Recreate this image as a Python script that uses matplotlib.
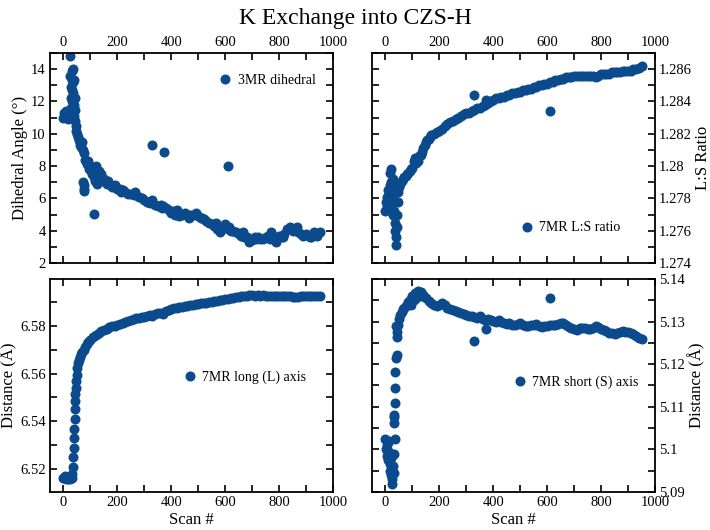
import numpy as np
import matplotlib
matplotlib.use('Agg')
import matplotlib.pyplot as plt
import matplotlib.ticker as mticker

plt.rcParams['font.family'] = ['Liberation Serif', 'DejaVu Serif']

BLUE = '#0b4a8c'

# ---- 3MR dihedral (deg) ----
dih_scan = [0, 3, 6, 9, 12, 15, 18, 21,
            24, 26, 27, 28, 29, 30, 31, 32, 33, 34, 35, 36, 37, 38, 39, 40, 42, 43, 44,
            46, 48, 50, 53, 56, 60, 63, 66, 70, 73, 76, 80, 83, 86, 90, 93, 96,
            100, 103, 106, 110, 113, 116, 120, 123, 126, 130, 135, 140, 145, 150,
            160, 170, 180, 190, 200, 210, 220, 230, 240, 250, 260, 270, 280, 290,
            300, 310, 320, 330, 340, 350, 360, 370, 380, 390, 400, 410, 420, 430,
            440, 450, 460, 470, 480, 490, 500, 510, 520, 530, 540, 550, 560, 570,
            580, 590, 600, 610, 620, 630, 640, 650, 660, 670, 680, 690, 700, 710,
            720, 730, 740, 750, 760, 770, 780, 790, 800, 810, 820, 830, 840, 850,
            860, 870, 880, 890, 900, 910, 920, 930, 940, 950,
            165, 215, 265, 315, 365, 415, 465, 515, 565, 615, 665, 715, 765, 815, 865, 915,
            74, 75, 76, 77, 115, 329, 372, 611]
dih_val = [11.0, 11.3, 11.1, 11.4, 11.2, 10.9, 11.3, 11.0,
           14.8, 13.6, 12.9, 12.2, 11.6, 13.9, 13.3, 12.7, 12.0, 11.3, 14.0, 13.2, 12.5, 11.8, 11.1, 13.3, 12.2, 11.5, 10.8,
           10.5, 10.2, 10.0, 9.8, 9.6, 9.5, 9.3, 9.2, 9.5, 9.0, 8.8, 8.4, 8.3, 8.1, 8.3, 8.0, 7.8,
           8.0, 7.7, 7.5, 7.9, 7.3, 7.1, 8.0, 7.6, 6.9, 7.7, 7.2, 7.5, 7.1, 7.2,
           6.9, 6.9, 6.7, 6.8, 6.6, 6.6, 6.5, 6.4, 6.3, 6.3, 6.2, 6.2, 6.1, 6.0,
           5.9, 5.8, 5.7, 5.9, 5.6, 5.5, 5.6, 5.5, 5.4, 5.3, 5.1, 5.2, 5.3, 4.9,
           5.0, 5.1, 5.0, 5.0, 5.0, 5.1, 4.9, 4.8, 4.7, 4.6, 4.5, 4.4, 4.3, 4.1,
           3.9, 4.2, 4.4, 4.1, 4.0, 4.0, 3.9, 3.8, 3.7, 3.6, 3.6, 3.3, 3.4, 3.6,
           3.6, 3.5, 3.5, 3.6, 3.7, 3.9, 3.5, 3.3, 3.7, 3.6, 3.8, 4.1, 4.2, 4.0,
           4.1, 3.9, 3.8, 3.7, 3.8, 3.7, 3.6, 3.9, 3.7, 3.9,
           7.1, 6.4, 6.4, 5.8, 5.4, 5.0, 4.8, 4.8, 4.5, 4.2, 3.9, 3.5, 3.5, 3.6, 4.2, 3.6,
           7.0, 6.8, 6.6, 6.45, 5.05, 9.3, 8.9, 8.0]

# ---- 7MR L:S ratio ----
ls_scan = [0, 2, 4, 6, 8, 10, 12, 14, 16, 18, 20, 22, 24, 26, 27, 28, 30, 32, 33, 34,
           36, 38, 40, 42, 44, 46, 48, 50, 55, 60, 65, 70, 75, 80, 85, 90, 95, 100,
           105, 110, 115, 120, 125, 130, 135, 140, 145, 150, 155, 160, 165, 170,
           180, 190, 200, 210, 220, 230, 240, 250, 260, 270, 280, 290, 300, 310,
           320, 330, 340, 350, 360, 370, 380, 390, 400, 410, 420, 430, 440, 450,
           460, 470, 480, 490, 500, 510, 520, 530, 540, 550, 560, 570, 580, 590,
           600, 610, 620, 630, 640, 650, 660, 670, 680, 690, 700, 710, 720, 730,
           740, 750, 760, 770, 780, 790, 800, 810, 820, 830, 840, 850, 860, 870,
           880, 890, 900, 910, 920, 930, 940, 950,
           330, 373, 611]
ls_val = [1.2772, 1.2778, 1.2781, 1.2775, 1.2785, 1.2779, 1.2776, 1.2783, 1.2788, 1.2796,
          1.2798, 1.2790, 1.2784, 1.2777, 1.2770, 1.2792, 1.2786, 1.2779, 1.2772, 1.2765,
          1.2760, 1.2756, 1.2751, 1.2762, 1.2770, 1.2778, 1.2784, 1.2787, 1.2789, 1.2791,
          1.2792, 1.2793, 1.2794, 1.2795, 1.2796, 1.2797, 1.2798, 1.2799,
          1.2803, 1.2805, 1.2802, 1.2803, 1.2806, 1.2807, 1.2809, 1.2811, 1.2813, 1.2815,
          1.2816, 1.2817, 1.2818, 1.2819,
          1.2820, 1.2821, 1.2822, 1.2823, 1.2825, 1.2826, 1.2827, 1.2828, 1.2829, 1.2830,
          1.2831, 1.2832, 1.2833, 1.2833, 1.2834, 1.2835, 1.2836, 1.2836, 1.2837, 1.2838,
          1.2839, 1.2840, 1.2841, 1.2842, 1.2842, 1.2843, 1.2843, 1.2844, 1.2844, 1.2845,
          1.2845, 1.2846, 1.2846, 1.2847, 1.2847, 1.2848, 1.2848, 1.2849, 1.2849, 1.2850,
          1.2850, 1.2851, 1.2851, 1.2852, 1.2852, 1.2853, 1.2853, 1.2854, 1.2854, 1.2855,
          1.2855, 1.2855, 1.2856, 1.2856, 1.2856, 1.2856, 1.2856, 1.2856, 1.2856, 1.2856,
          1.2855, 1.2856, 1.2857, 1.2857, 1.2857, 1.2857, 1.2858, 1.2858, 1.2858, 1.2858,
          1.2859, 1.2859, 1.2859, 1.2859, 1.2860, 1.2860, 1.2861, 1.2862,
          1.2844, 1.2841, 1.2834]

# ---- 7MR long (L) axis (Angstrom) ----
long_scan = [0, 5, 10, 15, 20, 25, 30, 33, 35, 37, 38, 39, 40, 41, 42, 43, 44, 45, 47,
             49, 52, 55, 58, 62, 66, 70, 75, 80, 86, 92, 100, 110, 120, 130, 140, 150,
             160, 170, 180, 190, 200, 210, 220, 230, 240, 250, 260, 270, 280, 290,
             300, 310, 320, 330, 340, 350, 360, 370, 380, 390, 400, 410, 420, 430,
             440, 450, 460, 470, 480, 490, 500, 510, 520, 530, 540, 550, 560, 570,
             580, 590, 600, 610, 620, 630, 640, 650, 660, 670, 680, 690, 700, 710,
             720, 730, 740, 750, 760, 770, 780, 790, 800, 810, 820, 830, 840, 850,
             860, 870, 880, 890, 900, 910, 920, 930, 940, 950]
long_val = [6.5165, 6.5170, 6.5160, 6.5158, 6.5162, 6.5160, 6.5165, 6.5180, 6.5210, 6.5250,
            6.5290, 6.5330, 6.5370, 6.5410, 6.5450, 6.5485, 6.5515, 6.5540, 6.5570,
            6.5595, 6.5625, 6.5645, 6.5655, 6.5667, 6.5680, 6.5690, 6.5700, 6.5712, 6.5723,
            6.5732, 6.5742, 6.5752, 6.5762, 6.5770, 6.5777, 6.5783, 6.5788, 6.5793, 6.5797,
            6.5800, 6.5803, 6.5808, 6.5812, 6.5816, 6.5820, 6.5823, 6.5827, 6.5830, 6.5832,
            6.5835, 6.5838, 6.5840, 6.5843, 6.5840, 6.5848, 6.5852, 6.5855, 6.5850, 6.5860,
            6.5865, 6.5868, 6.5872, 6.5875, 6.5878, 6.5880, 6.5882, 6.5884, 6.5886, 6.5887,
            6.5889, 6.5891, 6.5893, 6.5894, 6.5896, 6.5898, 6.5900, 6.5902, 6.5904, 6.5906,
            6.5908, 6.5910, 6.5912, 6.5914, 6.5916, 6.5918, 6.5920, 6.5922, 6.5924, 6.5926,
            6.5927, 6.5927, 6.5926, 6.5927, 6.5926, 6.5927, 6.5926, 6.5926, 6.5925, 6.5926,
            6.5925, 6.5925, 6.5924, 6.5925, 6.5923, 6.5922, 6.5921, 6.5920, 6.5921, 6.5922,
            6.5923, 6.5923, 6.5924, 6.5924, 6.5925, 6.5925, 6.5924]

# ---- 7MR short (S) axis (Angstrom) ----
short_scan = [0, 2, 4, 6, 8, 10, 12, 14, 16, 18, 20, 22, 24, 26, 28, 30, 32, 34,
              31, 32, 33, 34, 35, 36, 40, 41, 42, 43, 40,
              45, 50, 55, 60, 65, 70, 75, 80, 85, 90, 95, 100, 105, 110, 115, 120,
              125, 130, 135, 140, 150, 160, 170, 180, 190, 200, 210, 220, 230, 240,
              250, 260, 270, 280, 290, 300, 310, 320, 330, 340, 350, 360, 370, 380,
              390, 400, 410, 420, 430, 440, 450, 460, 470, 480, 490, 500, 510, 520,
              530, 540, 550, 560, 570, 580, 590, 600, 610, 620, 630, 640, 650, 660,
              670, 680, 690, 700, 710, 720, 730, 740, 750, 760, 770, 780, 790, 800,
              810, 820, 830, 840, 850, 860, 870, 880, 890, 900, 910, 920, 930, 940, 950,
              330, 374, 611]
short_val = [5.1025, 5.1000, 5.0985, 5.1010, 5.0990, 5.0975, 5.0995, 5.1020, 5.0965,
             5.0950, 5.0980, 5.0940, 5.0930, 5.0918, 5.0960, 5.0945, 5.0990, 5.1025,
             5.1062, 5.1075, 5.1080, 5.1110, 5.1143, 5.1182, 5.1215, 5.1222, 5.1265, 5.1276, 5.1290,
             5.1292, 5.1305, 5.1316, 5.1322, 5.1330, 5.1333, 5.1336, 5.1340, 5.1345, 5.1350,
             5.1340, 5.1360, 5.1350, 5.1366, 5.1355, 5.1372, 5.1362, 5.1370, 5.1360, 5.1362,
             5.1355, 5.1348, 5.1343, 5.1338, 5.1336, 5.1340, 5.1343, 5.1338, 5.1333, 5.1330,
             5.1328, 5.1325, 5.1322, 5.1320, 5.1318, 5.1316, 5.1312, 5.1314, 5.1310, 5.1308,
             5.1312, 5.1306, 5.1304, 5.1306, 5.1303, 5.1302, 5.1300, 5.1303, 5.1300, 5.1296,
             5.1295, 5.1296, 5.1293, 5.1292, 5.1294, 5.1296, 5.1292, 5.1290, 5.1290, 5.1292,
             5.1291, 5.1294, 5.1290, 5.1288, 5.1289, 5.1290, 5.1291, 5.1292, 5.1293, 5.1294,
             5.1296, 5.1297, 5.1291, 5.1288, 5.1285, 5.1282, 5.1280, 5.1284, 5.1286, 5.1284,
             5.1283, 5.1282, 5.1285, 5.1290, 5.1288, 5.1283, 5.1280, 5.1277, 5.1274, 5.1274,
             5.1272, 5.1273, 5.1276, 5.1278, 5.1276, 5.1275, 5.1273, 5.1270, 5.1266, 5.1262,
             5.1258,
             5.1254, 5.1282, 5.1355]

fig = plt.figure(figsize=(7.1, 5.3), dpi=100)
W, H = 710.0, 530.0

def make_ax(l, t, r, b):
    return fig.add_axes([l / W, 1 - b / H, (r - l) / W, (b - t) / H])

ax1 = make_ax(50, 53, 333, 263)
ax2 = make_ax(372, 53, 655, 263)
ax3 = make_ax(50, 279, 333, 492)
ax4 = make_ax(372, 279, 655, 492)

panels = [
    (ax1, dih_scan, dih_val, '3MR dihedral', (0.60, 0.871)),
    (ax2, ls_scan, ls_val, '7MR L:S ratio', (0.528, 0.167)),
    (ax3, long_scan, long_val, '7MR long (L) axis', (0.475, 0.54)),
    (ax4, short_scan, short_val, '7MR short (S) axis', (0.503, 0.513)),
]

for ax, xs, ys, lab, pos in panels:
    ax.plot(xs, ys, 'o', color=BLUE, markersize=7.2, markeredgewidth=0, label=lab)
    ax.set_xlim(-50, 1000)
    ax.xaxis.set_major_locator(mticker.MultipleLocator(200))
    ax.xaxis.set_minor_locator(mticker.MultipleLocator(100))
    ax.tick_params(which='both', direction='in', top=True, bottom=True, left=True, right=True,
                   length=5, width=1.2, labelsize=10.5, pad=3)
    for s in ax.spines.values():
        s.set_linewidth(1.3)
    ax.yaxis.set_major_formatter(mticker.FormatStrFormatter('%g'))
    ax.legend(loc='center left', bbox_to_anchor=pos, frameon=False, fontsize=10,
              handlelength=0.8, handletextpad=0.5, borderpad=0, borderaxespad=0, numpoints=1)

ax1.set_ylim(2, 15)
ax1.yaxis.set_major_locator(mticker.MultipleLocator(2))
ax1.yaxis.set_minor_locator(mticker.MultipleLocator(1))
ax1.tick_params(labeltop=True, labelbottom=False)
ax1.set_ylabel('Dihedral Angle (°)', fontsize=12, labelpad=2)

ax2.set_ylim(1.274, 1.287)
ax2.yaxis.set_major_locator(mticker.MultipleLocator(0.002))
ax2.yaxis.set_minor_locator(mticker.MultipleLocator(0.001))
ax2.tick_params(labeltop=True, labelbottom=False, labelleft=False, labelright=True)
ax2.yaxis.set_label_position('right')
ax2.set_ylabel('L:S Ratio', fontsize=12, labelpad=2)

ax3.set_ylim(6.5105, 6.5995)
ax3.yaxis.set_major_locator(mticker.MultipleLocator(0.02))
ax3.yaxis.set_minor_locator(mticker.MultipleLocator(0.01))
ax3.set_ylabel('Distance (Å)', fontsize=12, labelpad=2)
ax3.set_xlabel('Scan #', fontsize=12, labelpad=2)

ax4.set_ylim(5.09, 5.14)
ax4.yaxis.set_major_locator(mticker.MultipleLocator(0.01))
ax4.yaxis.set_minor_locator(mticker.MultipleLocator(0.005))
ax4.tick_params(labelleft=False, labelright=True)
ax4.yaxis.set_label_position('right')
ax4.set_ylabel('Distance (Å)', fontsize=12, labelpad=2)
ax4.set_xlabel('Scan #', fontsize=12, labelpad=2)

fig.suptitle('K Exchange into CZS-H', fontsize=17, y=0.985, va='top')

fig.savefig('out.png', dpi=100)
